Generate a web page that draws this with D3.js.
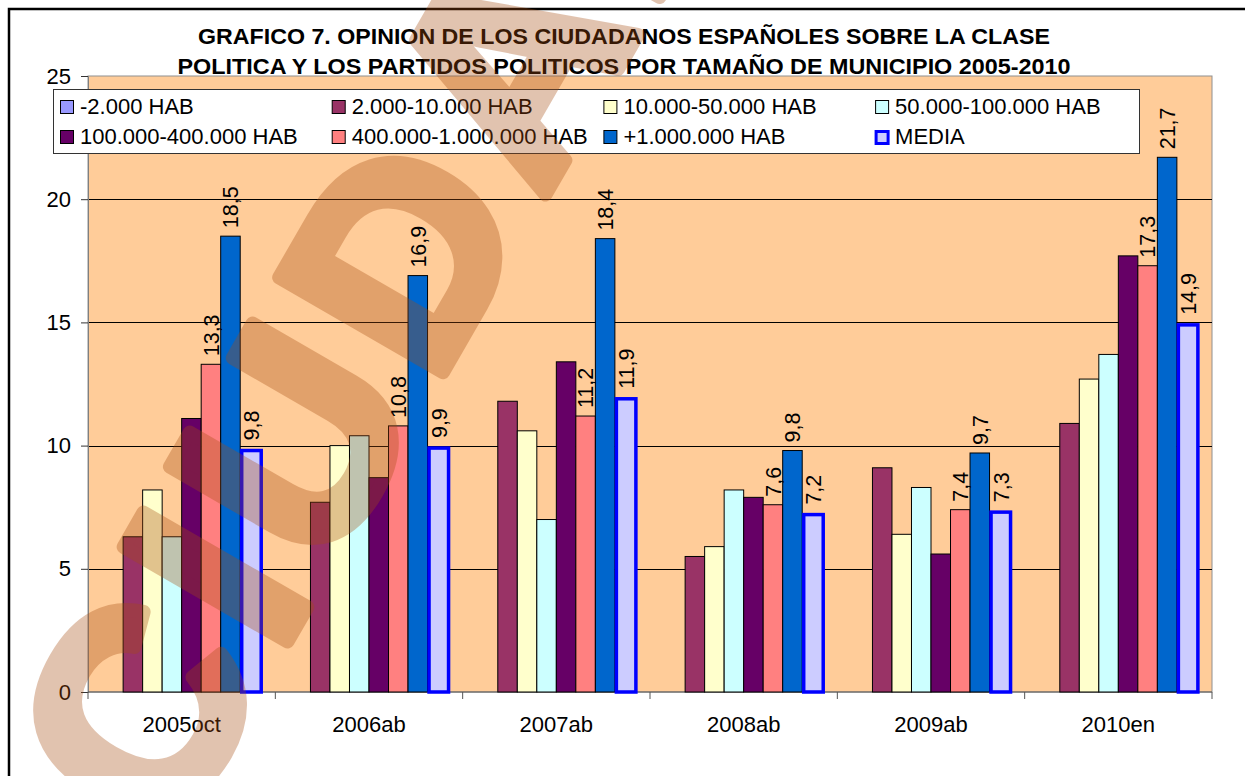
<!DOCTYPE html>
<html>
<head>
<meta charset="utf-8">
<script src="https://cdn.jsdelivr.net/npm/d3@7/dist/d3.min.js"></script>
<style>
  body { margin: 0; background: #fff; }
  svg { display: block; font-family: "Liberation Sans", Arial, sans-serif; }
</style>
</head>
<body>
<script>
// categories (x axis)
var categories = ["2005oct", "2006ab", "2007ab", "2008ab", "2009ab", "2010en"];

// series, one array per municipio size
var seriesNames = ["-2.000 HAB", "2.000-10.000 HAB", "10.000-50.000 HAB", "50.000-100.000 HAB",
    "100.000-400.000 HAB", "400.000-1.000.000 HAB", "+1.000.000 HAB", "MEDIA"];
var menos2000 = [null, null, null, null, null, null];
var de2000a10000 = [6.3, 7.7, 11.8, 5.5, 9.1, 10.9];
var de10000a50000 = [8.2, 10.0, 10.6, 5.9, 6.4, 12.7];
var de50000a100000 = [6.3, 10.4, 7.0, 8.2, 8.3, 13.7];
var de100000a400000 = [11.1, 8.7, 13.4, 7.9, 5.6, 17.7];
var de400000a1000000 = [13.3, 10.8, 11.2, 7.6, 7.4, 17.3];
var mas1000000 = [18.5, 16.9, 18.4, 9.8, 9.7, 21.7];
var media = [9.8, 9.9, 11.9, 7.2, 7.3, 14.9];
var yTicks = [0, 5, 10, 15, 20, 25];
// only the last three series carry value labels
var labelled = ["400.000-1.000.000 HAB", "+1.000.000 HAB", "MEDIA"];

var titleLines = ["GRAFICO 7. OPINION DE LOS CIUDADANOS ESPAÑOLES SOBRE LA CLASE",
    "POLITICA Y LOS PARTIDOS POLITICOS POR TAMAÑO DE MUNICIPIO 2005-2010"];

var values = [menos2000, de2000a10000, de10000a50000, de50000a100000,
    de100000a400000, de400000a1000000, mas1000000, media];

var colors = ["#9999FF", "#993366", "#FFFFCC", "#CCFFFF", "#660066", "#FF8080", "#0066CC", "#CCCCFF"];

var W = 1245, H = 776;
var plot = {left: 88, right: 1212, top: 76, bottom: 692};

var svg = d3.select("body").append("svg")
    .attr("width", W)
    .attr("height", H);

// outer frame
svg.append("rect")
    .attr("x", 9).attr("y", 9)
    .attr("width", 1400).attr("height", 1000)
    .attr("fill", "#fff")
    .attr("stroke", "#000").attr("stroke-width", 2.5);

var x0 = d3.scaleBand()
    .domain(categories)
    .range([plot.left, plot.right])
    .paddingInner(0).paddingOuter(0);

var x1 = d3.scaleBand()
    .domain(seriesNames)
    .range([0, x0.bandwidth()])
    .paddingInner(0).paddingOuter(0.8);

var y = d3.scaleLinear()
    .domain([0, 25])
    .range([plot.bottom, plot.top]);

var fmt = function(v) { return d3.format(".1f")(v).replace(".", ","); };

// plot area
svg.append("rect")
    .attr("x", plot.left).attr("y", plot.top)
    .attr("width", plot.right - plot.left).attr("height", plot.bottom - plot.top)
    .attr("fill", "#FFCC99")
    .attr("stroke", "#909090").attr("stroke-width", 1);

// gridlines
svg.append("g").selectAll("line")
    .data(yTicks.filter(function(t) { return t > 0 && t < 25; }))
    .enter().append("line")
    .attr("x1", plot.left).attr("x2", plot.right)
    .attr("y1", function(d) { return Math.round(y(d)) + 0.5; })
    .attr("y2", function(d) { return Math.round(y(d)) + 0.5; })
    .attr("stroke", "#000").attr("stroke-width", 1);

// y axis
var yAxis = svg.append("g")
    .attr("transform", "translate(" + plot.left + ",0)")
    .call(d3.axisLeft(y).tickValues(yTicks).tickSize(7).tickPadding(10).tickFormat(d3.format("d")));
yAxis.select(".domain").attr("stroke", "#808080");
yAxis.selectAll(".tick line").attr("stroke", "#333");
yAxis.selectAll("text")
    .attr("font-size", 22).attr("fill", "#000")
    .attr("font-family", "Liberation Sans, Arial, sans-serif");

// x axis (ticks at category boundaries)
var xAxis = svg.append("g")
    .attr("transform", "translate(0," + plot.bottom + ")");
xAxis.append("line")
    .attr("x1", plot.left).attr("x2", plot.right)
    .attr("stroke", "#555");
xAxis.selectAll(".tk")
    .data(categories.concat(["end"]))
    .enter().append("line")
    .attr("x1", function(d, i) { return plot.left + i * x0.step(); })
    .attr("x2", function(d, i) { return plot.left + i * x0.step(); })
    .attr("y1", 0).attr("y2", 7)
    .attr("stroke", "#555");
xAxis.selectAll("text")
    .data(categories)
    .enter().append("text")
    .attr("x", function(d) { return x0(d) + x0.bandwidth() / 2; })
    .attr("y", 40)
    .attr("text-anchor", "middle")
    .attr("font-size", 22)
    .text(function(d) { return d; });

// bars
var groups = svg.append("g").selectAll("g")
    .data(categories)
    .enter().append("g")
    .attr("transform", function(d) { return "translate(" + x0(d) + ",0)"; });

groups.selectAll("rect")
    .data(function(c, ci) {
        return seriesNames.map(function(s, si) {
            return {series: s, si: si, value: values[si][ci]};
        }).filter(function(d) { return d.value != null; });
    })
    .enter().append("rect")
    .attr("x", function(d) { return x1(d.series) + (d.series == "MEDIA" ? 1.5 : 0); })
    .attr("y", function(d) { return y(d.value); })
    .attr("width", x1.bandwidth())
    .attr("height", function(d) { return y(0) - y(d.value); })
    .attr("fill", function(d) { return colors[d.si]; })
    .attr("stroke", function(d) { return d.series == "MEDIA" ? "#0000FF" : "#000"; })
    .attr("stroke-width", function(d) { return d.series == "MEDIA" ? 3.5 : 1; });

// value labels, rotated
groups.selectAll("text")
    .data(function(c, ci) {
        return seriesNames.map(function(s, si) {
            return {series: s, si: si, value: values[si][ci]};
        }).filter(function(d) { return d.value != null && labelled.indexOf(d.series) >= 0; });
    })
    .enter().append("text")
    .attr("transform", function(d) {
        var cx = x1(d.series) + x1.bandwidth() / 2 + (d.series == "MEDIA" ? 1.5 : 0);
        var gap = d.series == "MEDIA" ? 10 : 8;
        return "translate(" + cx + "," + (y(d.value) - gap) + ") rotate(-90)";
    })
    .attr("dy", "0.36em")
    .attr("font-size", 21.5)
    .text(function(d) { return fmt(d.value); });

// legend
var legend = svg.append("g");
legend.append("rect")
    .attr("x", 53.5).attr("y", 89.5)
    .attr("width", 1086).attr("height", 64)
    .attr("fill", "#fff")
    .attr("stroke", "#333").attr("stroke-width", 1);

var items = legend.selectAll("g.item")
    .data(seriesNames)
    .enter().append("g")
    .attr("transform", function(d, i) {
        return "translate(" + (60 + (i % 4) * 271.7) + "," + (100 + Math.floor(i / 4) * 30) + ")";
    });
items.append("rect")
    .attr("x", function(d) { return d == "MEDIA" ? 1 : 0.5; })
    .attr("y", function(d) { return d == "MEDIA" ? 1.5 : 0.5; })
    .attr("width", function(d) { return d == "MEDIA" ? 12 : 13; })
    .attr("height", function(d) { return d == "MEDIA" ? 12 : 13; })
    .attr("fill", function(d, i) { return colors[i]; })
    .attr("stroke", function(d) { return d == "MEDIA" ? "#0000FF" : "#000"; })
    .attr("stroke-width", function(d) { return d == "MEDIA" ? 3 : 1; });
items.append("text")
    .attr("x", 20).attr("y", 14)
    .attr("font-size", 22)
    .text(function(d) { return d; });

// title
svg.append("g").selectAll("text")
    .data(titleLines)
    .enter().append("text")
    .attr("x", 624)
    .attr("y", function(d, i) { return 44 + i * 30; })
    .attr("text-anchor", "middle")
    .attr("font-size", 21.5)
    .attr("font-weight", "bold")
    .attr("textLength", function(d, i) { return i == 0 ? 852 : 893; })
    .attr("lengthAdjust", "spacingAndGlyphs")
    .text(function(d) { return d; });

// watermark on top of everything
var wm = svg.append("g")
    .attr("opacity", 0.33)
    .attr("transform", "translate(170,845) rotate(-60)");
wm.append("text")
    .attr("font-size", 275)
    .attr("font-weight", "bold")
    .attr("letter-spacing", 18)
    .attr("fill", "rgb(167,76,16)")
    .attr("stroke", "rgb(167,76,16)")
    .attr("stroke-width", 14)
    .attr("stroke-linejoin", "round")
    .text("CIUDADANO");
</script>
</body>
</html>
